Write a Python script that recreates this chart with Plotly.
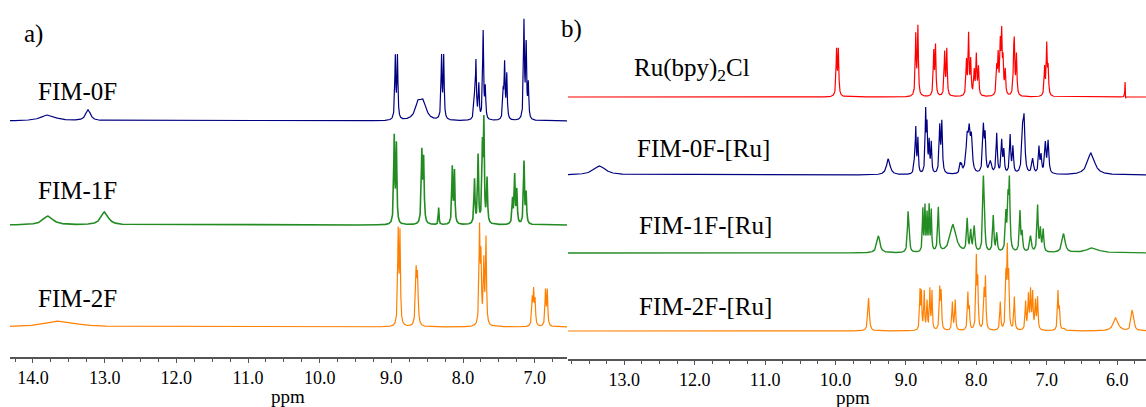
import numpy as np
import plotly.graph_objects as go

W, H = 1146, 407

# ---------------- data: peak lists ----------------
# heights are in pixels above each trace's baseline, widths are HWHM in ppm
fim0f_ppm = [13.79, 13.23, 8.945, 8.915, 8.625, 8.555, 8.30, 8.27,
             7.84, 7.82, 7.78, 7.72, 7.69, 7.44, 7.42, 7.39, 7.15, 7.12, 7.09]
fim0f_h = [6, 11, 62, 62, 16, 16, 62, 62,
           20, 56, 34, 88, 30, 26, 54, 44, 97, 72, 34]
fim0f_w = [0.12, 0.04, 0.008, 0.008, 0.05, 0.05, 0.008, 0.008,
           0.01, 0.008, 0.008, 0.008, 0.008, 0.008, 0.008, 0.008, 0.008, 0.008, 0.008]

fim1f_ppm = [13.79, 13.00, 8.96, 8.93, 8.575, 8.55, 8.34, 8.15, 8.12,
             7.84, 7.79, 7.73, 7.71, 7.665, 7.31, 7.28, 7.25, 7.15, 7.12]
fim1f_h = [9, 13, 86, 78, 70, 62, 17, 56, 52,
           44, 68, 72, 98, 44, 24, 48, 33, 62, 30]
fim1f_w = [0.08, 0.06, 0.008, 0.008, 0.009, 0.009, 0.006, 0.008, 0.008,
           0.008, 0.008, 0.008, 0.008, 0.008, 0.008, 0.008, 0.008, 0.008, 0.008]

fim2f_ppm = [13.62, 8.905, 8.88, 8.655, 8.635, 7.77, 7.75, 7.71, 7.68,
             7.035, 7.015, 6.995, 6.85, 6.825]
fim2f_h = [6, 92, 90, 52, 46, 94, 64, 62, 86,
           26, 33, 24, 35, 35]
fim2f_w = [0.25, 0.008, 0.008, 0.01, 0.01, 0.008, 0.008, 0.008, 0.008,
           0.008, 0.008, 0.008, 0.008, 0.008]

ru_ppm = [9.985, 9.96, 8.86, 8.83, 8.605, 8.58, 8.45, 8.42,
          8.14, 8.11, 8.08, 8.03, 8.00, 7.97,
          7.71, 7.69, 7.66, 7.64, 7.62, 7.59, 7.47, 7.46, 7.43,
          7.03, 7.00, 6.98, 5.887, 5.880]
ru_h = [45, 45, 60, 68, 43, 49, 43, 46,
        34, 60, 34, 24, 40, 28,
        26, 38, 48, 58, 32, 24, 30, 45, 40,
        28, 50, 26, 16, -5]
ru_w = [0.008] * 26 + [0.004, 0.003]

fim0fru_ppm = [13.35, 9.25, 8.88, 8.86, 8.83, 8.72, 8.70, 8.67, 8.64,
               8.52, 8.49, 8.23, 8.21, 8.13, 8.10, 8.07, 7.90, 7.875, 7.80,
               7.71, 7.64, 7.61, 7.52, 7.48, 7.34, 7.32, 7.20, 7.11, 7.08,
               7.02, 6.98, 6.37]
fim0fru_h = [9, 16, 10, 44, 34, 60, 44, 30, 30,
             46, 50, 9, 7, 34, 34, 32, 46, 34, 12,
             40, 32, 22, 38, 26, 44, 44, 15, 26, 17,
             30, 32, 22]
fim0fru_w = [0.1, 0.03, 0.01, 0.008, 0.008, 0.008, 0.008, 0.008, 0.008,
             0.01, 0.01, 0.01, 0.01, 0.02, 0.015, 0.015, 0.012, 0.01, 0.02,
             0.01, 0.01, 0.01, 0.01, 0.01, 0.015, 0.012, 0.015, 0.01, 0.01,
             0.012, 0.012, 0.06]

fim1fru_ppm = [9.39, 8.97, 8.955, 8.76, 8.73, 8.70, 8.67, 8.64, 8.54,
               8.33, 8.13, 8.08, 8.03, 7.90, 7.885, 7.76, 7.71,
               7.58, 7.55, 7.53, 7.38, 7.35, 7.23, 7.13, 7.09, 7.05,
               6.76, 6.35]
fim1fru_h = [17, 36, 22, 42, 44, 36, 44, 40, 44,
             28, 32, 20, 25, 68, 36, 36, 18,
             36, 46, 66, 40, 18, 16, 46, 22, 22,
             19, 5]
fim1fru_w = [0.025, 0.01, 0.008, 0.007, 0.007, 0.007, 0.007, 0.007, 0.01,
             0.05, 0.01, 0.01, 0.012, 0.01, 0.008, 0.01, 0.01,
             0.01, 0.01, 0.01, 0.01, 0.01, 0.015, 0.01, 0.01, 0.01,
             0.025, 0.1]

fim2fru_ppm = [9.53, 8.80, 8.78, 8.74, 8.70, 8.66, 8.63, 8.52, 8.50,
               8.34, 8.30, 8.12, 8.10, 8.00, 7.98, 7.89, 7.87,
               7.66, 7.58, 7.56, 7.54, 7.46,
               7.30, 7.26, 7.23, 7.20, 7.16, 7.13,
               6.84, 6.82, 6.76, 6.02, 5.79, 5.77]
fim2fru_h = [33, 38, 36, 38, 28, 40, 38, 40, 36,
             28, 30, 36, 20, 70, 46, 36, 50,
             28, 50, 74, 50, 33,
             28, 34, 38, 36, 28, 32,
             38, 20, 2, 13, 15, 13]
fim2fru_w = [0.012] + [0.007] * 6 + [0.008] * 21 + [0.008, 0.008, 0.02, 0.04, 0.015, 0.015]

panel_a = [
    ("FIM-0F", fim0f_ppm, fim0f_h, fim0f_w, 121, "#000080", 1.2),
    ("FIM-1F", fim1f_ppm, fim1f_h, fim1f_w, 225, "#228B22", 1.6),
    ("FIM-2F", fim2f_ppm, fim2f_h, fim2f_w, 327, "#FF8000", 1.2),
]
panel_b = [
    ("Ru(bpy)<sub>2</sub>Cl", ru_ppm, ru_h, ru_w, 97, "#FF0000", 1.2),
    ("FIM-0F-[Ru]", fim0fru_ppm, fim0fru_h, fim0fru_w, 175, "#000080", 1.2),
    ("FIM-1F-[Ru]", fim1fru_ppm, fim1fru_h, fim1fru_w, 253, "#228B22", 1.4),
    ("FIM-2F-[Ru]", fim2fru_ppm, fim2fru_h, fim2fru_w, 331, "#FF8000", 1.2),
]

AXIS_A_Y = 357
AXIS_B_Y = 359
RANGE_A = [14.32, 6.55]
RANGE_B = [13.80, 5.59]


def spectrum(grid, ppm, h, w):
    y = np.zeros_like(grid)
    for p, hh, ww in zip(ppm, h, w):
        y += hh / (1.0 + ((grid - p) / ww) ** 2)
    return y


fig = go.Figure()

grid_a = np.linspace(RANGE_A[1], RANGE_A[0], 8000)
for name, p, h, w, base, col, lw in panel_a:
    y = spectrum(grid_a, p, h, w) + (AXIS_A_Y - base)
    fig.add_trace(go.Scatter(x=grid_a, y=y, mode="lines", line=dict(color=col, width=lw),
                             xaxis="x", yaxis="y", showlegend=False, hoverinfo="skip"))

grid_b = np.linspace(RANGE_B[1], RANGE_B[0], 8000)
for name, p, h, w, base, col, lw in panel_b:
    y = spectrum(grid_b, p, h, w) + (AXIS_B_Y - base)
    fig.add_trace(go.Scatter(x=grid_b, y=y, mode="lines", line=dict(color=col, width=lw),
                             xaxis="x2", yaxis="y2", showlegend=False, hoverinfo="skip"))

serif = "Liberation Serif"


def xaxis_style():
    return dict(
        showline=True, linecolor="#555555", linewidth=1.5,
        ticks="outside", ticklen=4, tickcolor="#555555", tickwidth=1,
        dtick=1, tick0=0, tickformat=".1f",
        minor=dict(dtick=0.25, ticks="outside", ticklen=3, tickcolor="#555555", showgrid=False),
        tickfont=dict(family=serif, size=18, color="black"),
        showgrid=False, zeroline=False, automargin=False,
    )


fig.update_layout(
    width=W, height=H,
    margin=dict(l=0, r=0, t=0, b=0),
    paper_bgcolor="white", plot_bgcolor="white",
    font=dict(family=serif, size=18, color="black"),
    xaxis=dict(domain=[10 / W, 567 / W], range=RANGE_A, anchor="y", **xaxis_style()),
    yaxis=dict(domain=[(H - AXIS_A_Y) / H, 1], range=[0, AXIS_A_Y], visible=False, anchor="x"),
    xaxis2=dict(domain=[568 / W, 1.0], range=RANGE_B, anchor="y2", **xaxis_style()),
    yaxis2=dict(domain=[(H - AXIS_B_Y) / H, 1], range=[0, AXIS_B_Y], visible=False, anchor="x2"),
)

labels = [
    ("a)", 33, 34, 25),
    ("b)", 571, 29, 25),
    ("FIM-0F", 77, 91, 25),
    ("FIM-1F", 77, 190, 25),
    ("FIM-2F", 77, 298, 25),
    ("Ru(bpy)<sub>2</sub>Cl", 692, 70, 25),
    ("FIM-0F-[Ru]", 703, 148, 25),
    ("FIM-1F-[Ru]", 705, 225, 25),
    ("FIM-2F-[Ru]", 705, 306, 25),
    ("ppm", 288, 396, 19),
    ("ppm", 853, 397, 19),
]
for txt, px, py, fs in labels:
    fig.add_annotation(text=txt, x=px / W, y=1 - py / H, xref="paper", yref="paper",
                       xanchor="center", yanchor="middle", showarrow=False,
                       font=dict(family=serif, size=fs, color="black"))

fig.write_html("out.html")
